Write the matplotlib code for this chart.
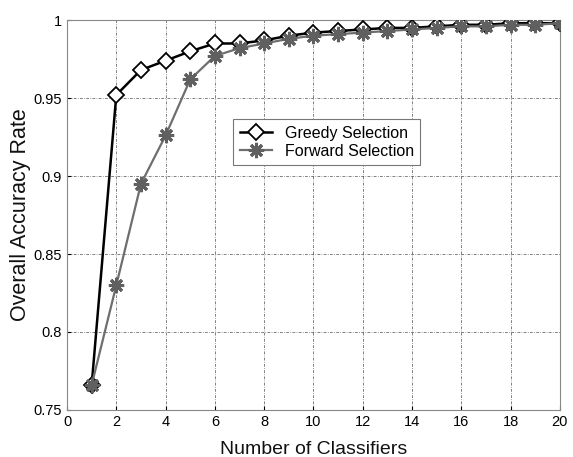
import numpy as np
from matplotlib import pyplot as plt

plt.rcParams['font.family'] = ['Liberation Sans', 'DejaVu Sans']

n_classifiers = list(range(1, 21))
greedy = [0.766, 0.952, 0.968, 0.974, 0.980, 0.985, 0.985, 0.987, 0.990, 0.992,
          0.993, 0.994, 0.995, 0.995, 0.996, 0.997, 0.997, 0.998, 0.998, 0.998]
forward = [0.766, 0.830, 0.895, 0.926, 0.962, 0.977, 0.982, 0.985, 0.988, 0.990,
           0.991, 0.992, 0.993, 0.994, 0.995, 0.996, 0.996, 0.997, 0.997, 0.998]

fig = plt.figure(figsize=(5.73, 4.57), dpi=100)
ax = fig.add_axes([0.117, 0.103, 0.860, 0.853])

ax.plot(n_classifiers, greedy, color='black', lw=1.8, marker='D', ms=8,
        mfc='white', mec='black', mew=1.3, label='Greedy Selection', zorder=3)
ax.plot(n_classifiers, forward, color='#6e6e6e', lw=1.6, marker=(8, 2, 0), ms=11,
        mec='#606060', mew=2.2, label='Forward Selection', zorder=4)

ax.set_xlim(0, 20)
ax.set_ylim(0.75, 1.0)
ax.set_xticks(np.arange(0, 21, 2))
ax.set_yticks([0.75, 0.8, 0.85, 0.9, 0.95, 1.0])
ax.set_yticklabels(['0.75', '0.8', '0.85', '0.9', '0.95', '1'])
ax.tick_params(direction='in', labelsize=10.5, length=3)
ax.grid(True, color='black', linestyle=(0, (4, 2, 1, 2)), lw=0.5, alpha=0.7)
for s in ax.spines.values():
    s.set_color('#888888')

ax.set_xlabel('Number of Classifiers', fontsize=14, labelpad=9, color='#111111')
ax.set_ylabel('Overall Accuracy Rate', fontsize=15.5, labelpad=2, color='#111111')

leg = ax.legend(loc='center', bbox_to_anchor=(0.527, 0.687), fontsize=11.5,
                fancybox=False, framealpha=1, edgecolor='#777777',
                handlelength=2.0, borderpad=0.4, labelspacing=0.2)
leg.get_frame().set_linewidth(0.8)

fig.savefig('out.png', dpi=100)
